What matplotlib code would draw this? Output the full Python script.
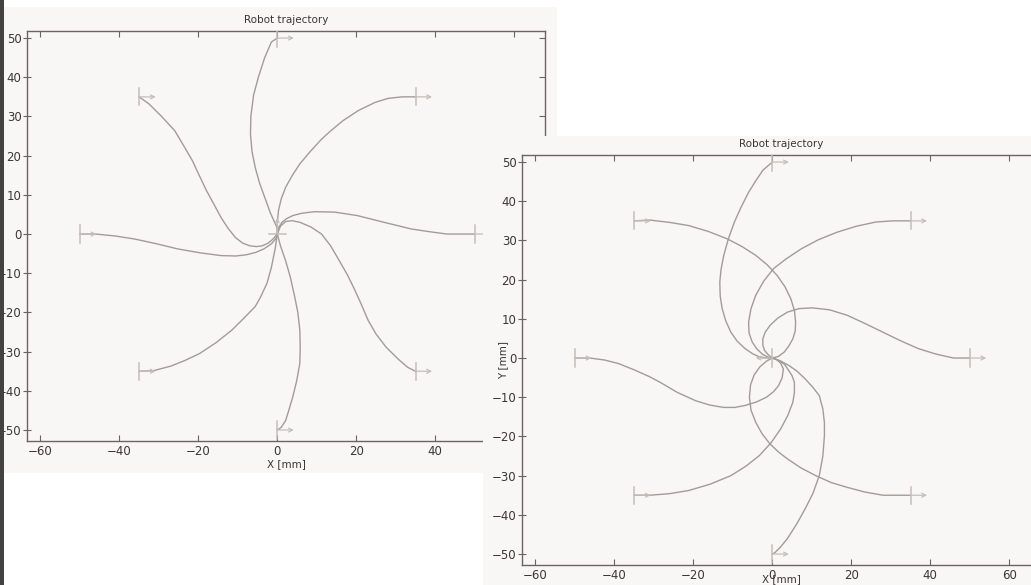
import matplotlib
matplotlib.use("Agg")
import matplotlib.pyplot as plt
from matplotlib.patches import Rectangle

# --- trajectories, left screenshot (goal at origin, heading up) ---
p1_n = [(0, 50), (-1.5, 49), (-3.2, 45), (-4.8, 40), (-6, 35.5), (-6.7, 30), (-6.8, 25.5), (-6.4, 21),
        (-5.6, 17), (-4.5, 13), (-3.2, 9.4), (-1.8, 5.5), (-0.7, 3), (0, 1.5), (0, 0)]
p1_ne = [(35, 35), (31.6, 35), (28, 34.6), (24.8, 33.6), (20.5, 31.5), (16.6, 28.9), (13.5, 26.3), (11.2, 24.2),
         (8.3, 21), (5.7, 17.9), (3.7, 14.8), (2.1, 11.9), (1, 9), (0.3, 6), (0, 3), (0, 0)]
p1_nw = [(-35, 35), (-32.5, 33.2), (-29.5, 30.2), (-26, 26.4), (-23.7, 22.5), (-21.5, 18.7), (-19.7, 14.8),
         (-17.9, 11), (-16, 7.5), (-14.3, 4.3), (-12.5, 1.5), (-10.6, -0.9), (-8.8, -2.3), (-7, -3),
         (-5.3, -3.2), (-3.8, -3), (-2.3, -2.3), (-1.1, -1.3), (0, 0)]
p1_w = [(-50, 0), (-46, 0), (-41, -0.5), (-36, -1.3), (-30.5, -2.5), (-25.2, -3.8), (-19.5, -4.8), (-14.3, -5.5),
        (-10.5, -5.6), (-7.9, -5.3), (-5.5, -4.7), (-3.4, -3.8), (-1.5, -2.5), (-0.4, -1.2), (0, 0)]
p1_e = [(50, 0), (46, 0), (43, 0), (38.5, 0.6), (33.9, 1.3), (27, 3), (20.3, 4.7), (14.5, 5.6), (9.4, 5.7),
        (6.2, 5.3), (3.9, 4.7), (2.3, 3.9), (1.2, 3), (0.4, 1.8), (0, 0)]
p1_se = [(0, 0), (0.8, 2), (2.1, 3.2), (3.8, 3.4), (5.7, 3), (8.5, 1.8), (11.2, 0), (13.5, -3), (15.7, -6.8),
         (17.8, -10.5), (19.5, -14), (21.3, -18), (23, -22), (25, -25.5), (27.5, -28.8), (30.5, -31.8),
         (33, -34), (35, -35)]
p1_s = [(0, 0), (0.8, -3), (2.1, -6.8), (3.3, -11), (4.4, -16), (5.2, -20), (5.7, -24.5), (5.8, -29),
        (5.7, -33), (4.9, -37.5), (3.9, -41.6), (2.9, -45), (2.1, -47.6), (1, -49.3), (0, -50)]
p1_sw = [(0, 0), (-0.5, -3.5), (-1.5, -8.5), (-2.6, -12.5), (-4.3, -16.2), (-5.6, -18.5), (-8.5, -21.5),
         (-11.5, -24.5), (-15.5, -27.7), (-19.7, -30.5), (-23.5, -32.3), (-27, -33.7), (-31.5, -34.9), (-35, -35)]

# --- trajectories, right screenshot (goal at origin, heading left) ---
p2_n = [(0, 50), (-2.4, 47.9), (-4.2, 45.2), (-6, 42.3), (-7.9, 38.5), (-9.6, 34.7), (-11.1, 30.5),
        (-12.3, 26.2), (-13, 22.5), (-13.3, 19.4), (-13.2, 15.8), (-12.7, 12.6), (-11.8, 9.5), (-10.5, 6.6),
        (-8.9, 4.3), (-6.9, 2.4), (-5, 1.1), (-3.3, 0.3), (-1.5, 0), (0, 0)]
p2_ne = [(35, 35), (30.5, 35), (26.2, 34.7), (21.2, 33.6), (16.4, 32.1), (11.7, 30.2), (7.4, 27.9), (3.5, 25.3),
         (0.3, 22.8), (-2.2, 19.6), (-4.2, 16), (-5.4, 12.6), (-6, 9.2), (-5.9, 6.4), (-5.1, 4.1), (-3.9, 2.3),
         (-2.4, 0.9), (-1, 0.2), (0, 0)]
p2_nw = [(-35, 35), (-31, 35.2), (-26, 34.6), (-21.2, 33.8), (-16.2, 32.3), (-11.4, 30.4), (-7.6, 28.4),
         (-4.2, 26.2), (-1.3, 23.8), (1.2, 21.1), (3.2, 18.2), (4.7, 15.1), (5.6, 12.1), (5.9, 9.2), (5.8, 6.9),
         (5.2, 4.9), (4.2, 3.1), (3, 1.5), (1.5, 0.4), (0, 0)]
p2_e = [(50, 0), (45.9, 0), (41.5, 1), (37, 2.4), (32.5, 4.4), (28, 6.6), (23.5, 8.8), (19, 10.9), (14.5, 12.3),
        (10.1, 12.8), (6.7, 12.6), (3.8, 11.7), (1.4, 10.2), (-0.6, 8.3), (-1.8, 6.6), (-2.4, 4.9),
        (-2.4, 3.3), (-2, 2), (-1, 0.8), (0, 0)]
p2_w = [(-50, 0), (-46.2, 0), (-42.5, -0.5), (-39, -1.4), (-35, -3), (-31, -4.8), (-28.4, -6.2), (-24, -8.8),
        (-19.4, -10.9), (-15.8, -12), (-12.3, -12.6), (-9.5, -12.6), (-6.9, -12.1), (-4, -11.2), (-1.5, -10),
        (0.3, -8.6), (1.6, -7), (2.5, -5), (2.8, -2.8), (2.1, -1.3), (1, -0.3), (0, 0)]
p2_se = [(0, 0), (-1.5, -0.8), (-3.2, -2.3), (-4.6, -4.3), (-5.5, -6.8), (-5.8, -10), (-5.4, -13.3),
         (-4.2, -16.4), (-2.6, -19.3), (-0.6, -21.9), (1.6, -24), (3.8, -25.7), (7.2, -28), (11, -30),
         (15, -31.8), (19, -33), (23.5, -34.2), (28, -35), (35, -35)]
p2_sw = [(0, 0), (1.6, -0.6), (3.1, -1.6), (3.9, -2.8), (5, -4.5), (5.6, -6.2), (5.6, -8.8), (5.2, -11.3),
         (3.9, -14.7), (2.1, -18.1), (-0.3, -21.6), (-3.3, -24.9), (-6.7, -27.6), (-10.5, -30), (-15.8, -32.2),
         (-21.2, -33.8), (-26, -34.6), (-31, -35), (-35, -35)]
p2_s = [(0, 0), (2, -0.7), (4.2, -1.9), (6.2, -3.3), (8.3, -5.3), (10.3, -7.5), (11.9, -9.6), (12.8, -13),
        (13.2, -16.5), (13.2, -19.8), (12.8, -25), (11.9, -30), (10.3, -34.5), (8.3, -38.5), (6.2, -42.3),
        (3.8, -46.1), (2, -48.3), (0.7, -49.6), (0, -50)]

# start poses (x, y), all heading 0 deg
start_x = [0, 35, 50, 35, 0, -35, -50, -35]
start_y = [50, 35, 0, -35, -50, -35, 0, 35]

xticks = [-60, -40, -20, 0, 20, 40, 60]
yticks = [-50, -40, -30, -20, -10, 0, 10, 20, 30, 40, 50]

W, H = 1031, 585
BG = "#f8f7f5"
LINE = "#a29c99"
MARK = "#c7bdb9"
SPINE = "#6a6562"
TXT = "#3a3735"
XLIM = (-63.4, 67.8)
YLIM = (-52.8, 51.8)


def fr(x0, y0, x1, y1):
    # pixel box (top-left origin) -> figure fraction rect
    return [x0 / W, 1 - y1 / H, (x1 - x0) / W, (y1 - y0) / H]


def bg_rect(fig, box, z, color):
    r = fr(*box)
    fig.patches.append(Rectangle((r[0], r[1]), r[2], r[3], transform=fig.transFigure,
                                 facecolor=color, edgecolor="none", zorder=z))


def pose(ax, x, y, dx, dy, vertical_bar):
    b = 2.2
    if vertical_bar:
        ax.plot([x, x], [y - b, y + b], color=MARK, lw=1.1, zorder=3)
    else:
        ax.plot([x - b, x + b], [y, y], color=MARK, lw=1.1, zorder=3)
    ax.annotate("", xy=(x + dx, y + dy), xytext=(x, y),
                arrowprops=dict(arrowstyle="->", color=MARK, lw=0.9,
                                shrinkA=0, shrinkB=0, mutation_scale=7), zorder=3)


def panel(fig, rect, z, paths, goal_dir, xlabel_pad, show_ylabel):
    ax = fig.add_axes(rect)
    ax.set_zorder(z)
    ax.set_facecolor(BG)
    for p in paths:
        xs = [q[0] for q in p]
        ys = [q[1] for q in p]
        ax.plot(xs, ys, color=LINE, lw=1.0, zorder=2)
    for sx, sy in zip(start_x, start_y):
        pose(ax, sx, sy, 4.2, 0, True)
    if goal_dir == "up":
        pose(ax, 0, 0, 0, 4.2, False)
    else:
        pose(ax, 0, 0, -4.2, 0, True)
    ax.set_xlim(*XLIM)
    ax.set_ylim(*YLIM)
    ax.set_xticks(xticks)
    ax.set_yticks(yticks)
    ax.set_xticklabels([str(v).replace("-", "\u2212") for v in xticks])
    ax.set_yticklabels([str(v).replace("-", "\u2212") for v in yticks])
    for s in ax.spines.values():
        s.set_color(SPINE)
        s.set_linewidth(1.0)
    ax.tick_params(axis="x", direction="in", length=4, top=True, color=SPINE,
                   labelsize=8.5, labelcolor=TXT, pad=3)
    ax.tick_params(axis="y", direction="inout", length=6, right=False, color=SPINE,
                   labelsize=8.5, labelcolor=TXT, pad=1)

    # right side: inward ticks only
    axr = ax.twinx()
    axr.set_zorder(z)
    axr.set_ylim(*YLIM)
    axr.set_yticks(yticks)
    axr.tick_params(axis="y", direction="in", length=4, color=SPINE, labelright=False)
    for s in axr.spines.values():
        s.set_visible(False)

    ax.set_title("Robot trajectory", fontsize=7.5, color=TXT, pad=6)
    ax.set_xlabel("X [mm]", fontsize=7.5, color=TXT, labelpad=xlabel_pad)
    if show_ylabel:
        ax.set_ylabel("Y [mm]", fontsize=7.5, color=TXT)
        ax.yaxis.set_label_coords(-0.027, 0.5)
    return ax


fig = plt.figure(figsize=(W / 100, H / 100), dpi=100, facecolor="white")

# left screenshot
bg_rect(fig, (4, 7, 557, 473), 0, BG)
panel(fig, fr(27, 31, 545, 441), 1, [p1_n, p1_ne, p1_nw, p1_w, p1_e, p1_se, p1_s, p1_sw], "up", 1, False)

# right screenshot lying over it
bg_rect(fig, (483, 136, W, H), 2, BG)
panel(fig, fr(522, 155, 1040, 565), 3, [p2_n, p2_ne, p2_nw, p2_w, p2_e, p2_se, p2_s, p2_sw], "left", -6, True)

# dark edge on the far left
bg_rect(fig, (0, 0, 4, H), 5, "#424242")

fig.savefig("out.png", dpi=100, facecolor="white")
